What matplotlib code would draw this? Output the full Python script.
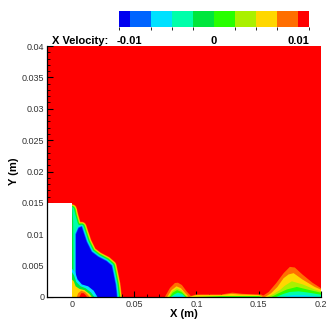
import numpy as np
import matplotlib
matplotlib.use('Agg')
import matplotlib.pyplot as plt
from matplotlib.colors import ListedColormap, BoundaryNorm
from matplotlib.cm import ScalarMappable
from matplotlib.ticker import MultipleLocator

plt.rcParams['font.family'] = ['Liberation Sans', 'DejaVu Sans']

# contour levels of the x velocity and their flood colours
levels = [-0.01125, -0.01, -0.0075, -0.005, -0.0025, 0.0, 0.0025, 0.005, 0.0075, 0.01, 0.01125]
level_colors = ['#0000f0', '#0064ff', '#00e1ff', '#00ffaa', '#00e63c',
                '#28ff00', '#aaf000', '#ffd700', '#ff6e00', '#ff0000']

# step (wall) block
step_x = [-0.02, 0.0]
step_h = 0.015

# recirculation core behind the step
core_x = [0.0, 0.0012, 0.0035, 0.0055, 0.0078, 0.0091, 0.0118, 0.0158, 0.0211, 0.0278,
          0.0319, 0.0335, 0.0350, 0.0360, 0.0362, 0.0]
core_y = [0.0140, 0.0130, 0.0114, 0.0111, 0.0112, 0.0104, 0.0088, 0.0072, 0.0064, 0.0057,
          0.0050, 0.0035, 0.0020, 0.0003, -0.001, -0.001]
blue_x = [0.0033, 0.0055, 0.0078, 0.0091, 0.0118, 0.0158, 0.0211, 0.0278,
          0.0319, 0.0335, 0.0350, 0.0360, 0.0362, 0.0033]
blue_y = [0.0100, 0.0110, 0.0112, 0.0104, 0.0088, 0.0072, 0.0064, 0.0057,
          0.0050, 0.0035, 0.0020, 0.0003, -0.001, -0.001]
wall_x = [0.0, 0.0012, 0.0012, 0.0010, 0.0004, 0.0]
wall_y = [-0.001, -0.001, 0.004, 0.012, 0.0140, 0.0145]

# corner vortex at the foot of the step
hot_cyan_x = [0.0, 0.0, 0.0025, 0.0045, 0.008, 0.013, 0.0175, 0.0205]
hot_cyan_y = [0.0, 0.0045, 0.0040, 0.0028, 0.0020, 0.0017, 0.0010, 0.0]
hot_green_x = [0.0, 0.0, 0.0018, 0.0035, 0.007, 0.011, 0.0155, 0.018]
hot_green_y = [0.0, 0.0040, 0.0034, 0.0024, 0.0017, 0.0014, 0.0007, 0.0]
hot_yellow_x = [0.0, 0.0, 0.0015, 0.003, 0.006, 0.010, 0.014, 0.016]
hot_yellow_y = [0.0, 0.0028, 0.0025, 0.0017, 0.0013, 0.0011, 0.0005, 0.0]
hot_orange_x = [0.004, 0.005, 0.0075, 0.0105, 0.013, 0.014]
hot_orange_y = [0.0, 0.0006, 0.0010, 0.0008, 0.0003, 0.0]
hot_red_x = [0.006, 0.0075, 0.0095, 0.0115, 0.012]
hot_red_y = [0.0, 0.0006, 0.0006, 0.0002, 0.0]

# small separation bubble near x = 0.085
m1_orange_x = [0.0746, 0.0787, 0.0827, 0.0851, 0.0883, 0.0923, 0.0963]
m1_orange_y = [0.0, 0.00143, 0.00223, 0.00228, 0.00191, 0.00085, 0.0]
m1_yellow_x = [0.0765, 0.0800, 0.0840, 0.0875, 0.0915, 0.094]
m1_yellow_y = [0.0, 0.0011, 0.0017, 0.0014, 0.0005, 0.0]
m1_ygreen_x = [0.0775, 0.0805, 0.0842, 0.0878, 0.093]
m1_ygreen_y = [0.0, 0.0009, 0.0014, 0.0011, 0.0]
m1_green_x = [0.0785, 0.081, 0.0845, 0.088, 0.092]
m1_green_y = [0.0, 0.0007, 0.0011, 0.0008, 0.0]
m1_aqua_x = [0.0795, 0.082, 0.085, 0.0885, 0.091]
m1_aqua_y = [0.0, 0.0004, 0.0007, 0.0005, 0.0]
m1_cyan_x = [0.0805, 0.0828, 0.086, 0.089, 0.0905]
m1_cyan_y = [0.0, 0.0002, 0.0003, 0.0002, 0.0]

# thin slow layer along the floor
floor_orange_x = [0.092, 0.10, 0.12, 0.129, 0.137, 0.152, 0.156]
floor_orange_y = [0.0, 0.0004, 0.0004, 0.0007, 0.0005, 0.0004, 0.0]
floor_yellow_x = [0.094, 0.10, 0.12, 0.128, 0.135, 0.15, 0.155]
floor_yellow_y = [0.0, 0.0003, 0.0003, 0.0005, 0.0004, 0.0003, 0.0]
floor_green_x = [0.097, 0.12, 0.15, 0.153]
floor_green_y = [0.0, 0.00015, 0.00015, 0.0]

# larger bubble near the outlet
m2_orange_x = [0.152, 0.158, 0.164, 0.170, 0.175, 0.179, 0.185, 0.193, 0.200, 0.202, 0.202]
m2_orange_y = [0.0, 0.0008, 0.0022, 0.0038, 0.0048, 0.0047, 0.0036, 0.0023, 0.0014, 0.0013, 0.0]
m2_yellow_x = [0.155, 0.160, 0.165, 0.170, 0.174, 0.178, 0.185, 0.195, 0.202, 0.202]
m2_yellow_y = [0.0, 0.0006, 0.0016, 0.0030, 0.0036, 0.0038, 0.0028, 0.0016, 0.0010, 0.0]
m2_ygreen_x = [0.157, 0.162, 0.167, 0.171, 0.1766, 0.1854, 0.195, 0.202, 0.202]
m2_ygreen_y = [0.0, 0.0005, 0.0011, 0.0018, 0.0025, 0.0020, 0.0012, 0.0008, 0.0]
m2_green_x = [0.160, 0.166, 0.1726, 0.1806, 0.191, 0.202, 0.202]
m2_green_y = [0.0, 0.0006, 0.0012, 0.0016, 0.0011, 0.0006, 0.0]
m2_aqua_x = [0.164, 0.170, 0.175, 0.182, 0.190, 0.202, 0.202]
m2_aqua_y = [0.0, 0.0005, 0.0008, 0.0009, 0.0007, 0.0003, 0.0]
m2_cyan_x = [0.170, 0.1733, 0.178, 0.187, 0.196, 0.200]
m2_cyan_y = [0.0, 0.0002, 0.0003, 0.0003, 0.0001, 0.0]

fig = plt.figure(figsize=(3.27, 3.2), dpi=100)
ax = fig.add_axes([47 / 327, 23 / 320, 274 / 327, 251 / 320])
ax.set_facecolor(level_colors[9])
ax.set_xlim(-0.02, 0.2)
ax.set_ylim(0, 0.04)


def flood(xs, ys, ci, z=2):
    ax.fill(xs, ys, color=level_colors[ci], lw=0, zorder=z)


# banded edge of the recirculation core
for ci, lw in zip([8, 7, 6, 5, 4, 3], [7.2, 6.4, 5.6, 4.8, 4.0, 3.0]):
    ax.fill(core_x, core_y, facecolor='none', edgecolor=level_colors[ci], lw=lw,
            joinstyle='round', zorder=2)
flood(core_x, core_y, 3)
for ci, lw in zip([2, 1], [2.0, 1.0]):
    ax.fill(blue_x, blue_y, facecolor='none', edgecolor=level_colors[ci], lw=lw,
            joinstyle='round', zorder=2)
flood(blue_x, blue_y, 0)
flood(wall_x, wall_y, 4)

for xs, ys, ci in [(hot_cyan_x, hot_cyan_y, 2), (hot_green_x, hot_green_y, 4),
                   (hot_yellow_x, hot_yellow_y, 7), (hot_orange_x, hot_orange_y, 8),
                   (hot_red_x, hot_red_y, 9),
                   (m1_orange_x, m1_orange_y, 8), (m1_yellow_x, m1_yellow_y, 7),
                   (m1_ygreen_x, m1_ygreen_y, 6), (m1_green_x, m1_green_y, 5),
                   (m1_aqua_x, m1_aqua_y, 3), (m1_cyan_x, m1_cyan_y, 2),
                   (floor_orange_x, floor_orange_y, 8), (floor_yellow_x, floor_yellow_y, 7),
                   (floor_green_x, floor_green_y, 5),
                   (m2_orange_x, m2_orange_y, 8), (m2_yellow_x, m2_yellow_y, 7),
                   (m2_ygreen_x, m2_ygreen_y, 6), (m2_green_x, m2_green_y, 5),
                   (m2_aqua_x, m2_aqua_y, 3), (m2_cyan_x, m2_cyan_y, 2)]:
    flood(xs, ys, ci, z=3)

# step block is outside the fluid domain
ax.fill([step_x[0], step_x[1], step_x[1], step_x[0]], [0, 0, step_h, step_h],
        color='white', lw=0, zorder=4)

for s in ['top', 'right']:
    ax.spines[s].set_visible(False)
for s in ['left', 'bottom']:
    ax.spines[s].set_linewidth(0.9)
    ax.spines[s].set_zorder(5)

ax.xaxis.set_major_locator(MultipleLocator(0.05))
ax.xaxis.set_minor_locator(MultipleLocator(0.01))
ax.yaxis.set_major_locator(MultipleLocator(0.005))
ax.yaxis.set_minor_locator(MultipleLocator(0.001))
ax.set_xticks([0, 0.05, 0.1, 0.15, 0.2])
ax.set_xticklabels(['0', '0.05', '0.1', '0.15', '0.2'])
ax.set_yticks(np.arange(0, 0.0401, 0.005))
ax.set_yticklabels(['0', '0.005', '0.01', '0.015', '0.02', '0.025', '0.03', '0.035', '0.04'])
ax.tick_params(which='major', direction='in', length=4, width=0.8, labelsize=6.5,
               labelcolor='#333333', pad=2, top=False, right=False)
ax.tick_params(which='minor', direction='in', length=2, width=0.6, top=False, right=False)
ax.set_xlabel('X (m)', fontsize=8, fontweight='bold', labelpad=0)
ax.set_ylabel('Y (m)', fontsize=8, fontweight='bold', labelpad=2)

# legend bar
cax = fig.add_axes([119 / 327, 1 - 27 / 320, 190 / 327, 16 / 320])
norm = BoundaryNorm(levels, len(level_colors))
sm = ScalarMappable(norm=norm, cmap=ListedColormap(level_colors))
cb = fig.colorbar(sm, cax=cax, orientation='horizontal', spacing='proportional')
cb.outline.set_visible(False)
cb.set_ticks([-0.01, 0, 0.01])
cb.set_ticklabels(['-0.01', '0', '0.01'])
cax.tick_params(length=0, pad=6.5, labelsize=8)
for t in cax.get_xticklabels():
    t.set_fontweight('bold')
fig.text(52 / 327, 1 - 41 / 320, 'X Velocity:', fontsize=8, fontweight='bold',
         ha='left', va='center')

fig.savefig('out.png', dpi=100)
